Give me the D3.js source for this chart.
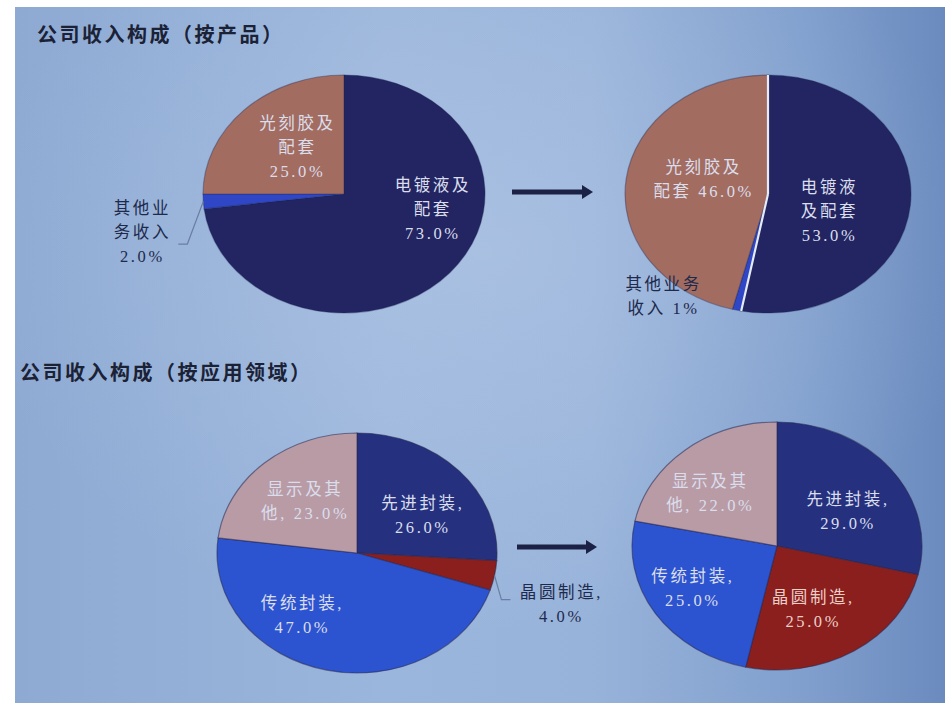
<!DOCTYPE html>
<html>
<head>
<meta charset="utf-8">
<script src="https://cdn.jsdelivr.net/npm/d3@7"></script>
<style>
  body { margin: 0; background: #ffffff; }
  svg { display: block; }
</style>
</head>
<body>
<svg id="chart" width="945" height="703"></svg>
<script>
// ---- data ----
const titles = ["公司收入构成（按产品）", "公司收入构成（按应用领域）"];

const productCategories = ["电镀液及配套", "其他业务收入", "光刻胶及配套"];
const productBefore = [73, 2, 25];
const productAfter = [53, 1, 46];

const fieldCategories = ["先进封装", "晶圆制造", "传统封装", "显示及其他"];
const fieldBefore = [26, 4, 47, 23];
const fieldAfter = [29, 25, 25, 22];

// label line templates, "{v}" is replaced by the formatted share
const productBeforeLabels = [["电镀液及", "配套", "{v}"], ["其他业", "务收入", "{v}"], ["光刻胶及", "配套", "{v}"]];
const productAfterLabels = [["电镀液", "及配套", "{v}"], ["其他业务", "收入 {v}"], ["光刻胶及", "配套 {v}"]];
const fieldBeforeLabels = [["先进封装,", "{v}"], ["晶圆制造,", "{v}"], ["传统封装,", "{v}"], ["显示及其", "他, {v}"]];
const fieldAfterLabels = [["先进封装,", "{v}"], ["晶圆制造,", "{v}"], ["传统封装,", "{v}"], ["显示及其", "他, {v}"]];

// ---- styling / layout ----
const productColors = ["#222561", "#2f47c6", "#a36c60"];
const fieldColors = ["#25317f", "#8a1f1e", "#2d54d0", "#b99ba6"];
const lightText = "#dadeec";
const darkText = "#1e2a4c";
const fmt1 = v => v.toFixed(1) + "%";
const fmt0 = v => v.toFixed(0) + "%";

const pies = [
  {
    cx: 344, cy: 194, rx: 141, ry: 119,
    categories: productCategories, values: productBefore, labels: productBeforeLabels,
    colors: productColors, format: fmt1,
    labelPos: [[0.63, 0.13], [-1.43, 0.32], [-0.33, -0.39]],
    labelColor: [lightText, darkText, lightText],
    leader: { index: 1, elbow: [45, 12], end: [36, 12] },
    stroke: "rgba(30,35,80,0.35)"
  },
  {
    cx: 768, cy: 194, rx: 143, ry: 119,
    categories: productCategories, values: productAfter, labels: productAfterLabels,
    colors: productColors, format: fmt1,
    labelPos: [[0.43, 0.15], [-0.73, 0.86], [-0.45, -0.12]],
    labelColor: [lightText, darkText, lightText],
    labelFormat: [fmt1, fmt0, fmt1],
    divider: 0,
    stroke: "rgba(30,35,80,0.35)"
  },
  {
    cx: 357, cy: 553, rx: 140, ry: 120,
    categories: fieldCategories, values: fieldBefore, labels: fieldBeforeLabels,
    colors: fieldColors, format: fmt1,
    labelPos: [[0.47, -0.31], [1.46, 0.43], [-0.39, 0.52], [-0.37, -0.43]],
    labelColor: [lightText, darkText, lightText, lightText],
    leader: { index: 1, elbow: [-60, -5], end: [-51, -5] },
    stroke: "rgba(40,40,80,0.55)"
  },
  {
    cx: 777, cy: 546, rx: 145, ry: 124,
    categories: fieldCategories, values: fieldAfter, labels: fieldAfterLabels,
    colors: fieldColors, format: fmt1,
    labelPos: [[0.49, -0.28], [0.25, 0.51], [-0.58, 0.34], [-0.46, -0.42]],
    labelColor: [lightText, "#ecd0c8", lightText, lightText],
    stroke: "rgba(40,40,80,0.55)"
  }
];

const arrows = [
  { x1: 512, x2: 593, y: 192 },
  { x1: 517, x2: 597, y: 547 }
];

const svg = d3.select("#chart");

// ---- backdrop ----
const defs = svg.append("defs");
const lg = defs.append("linearGradient").attr("id", "bg").attr("x1", "0").attr("x2", "1").attr("y1", "0").attr("y2", "0");
[["0%", "#8eaad3"], ["40%", "#9bb6dc"], ["62%", "#98b3da"], ["85%", "#809fcd"], ["100%", "#6b8bbf"]]
  .forEach(([o, c]) => lg.append("stop").attr("offset", o).attr("stop-color", c));
const rg = defs.append("radialGradient").attr("id", "glow").attr("cx", "0.5").attr("cy", "0.35").attr("r", "0.55");
rg.append("stop").attr("offset", "0%").attr("stop-color", "#c4d4ec").attr("stop-opacity", 0.35);
rg.append("stop").attr("offset", "100%").attr("stop-color", "#c4d4ec").attr("stop-opacity", 0);

svg.append("rect").attr("x", 15).attr("y", 7).attr("width", 930).attr("height", 696).attr("fill", "url(#bg)");
svg.append("rect").attr("x", 15).attr("y", 7).attr("width", 930).attr("height", 696).attr("fill", "url(#glow)");

// ---- titles ----
const titlePos = [[37, 33], [20, 371]];
svg.selectAll("text.title").data(titles).join("text")
  .attr("class", "title")
  .attr("x", (d, i) => titlePos[i][0])
  .attr("y", (d, i) => titlePos[i][1])
  .attr("dominant-baseline", "central")
  .attr("font-family", "'Noto Sans CJK SC', sans-serif")
  .attr("font-weight", 700)
  .attr("font-size", 20)
  .attr("letter-spacing", 2.5)
  .attr("fill", "#1b2236")
  .text(d => d);

// ---- pies ----
const labelFont = "'Liberation Serif', 'Noto Sans CJK SC', serif";
const lineH = 24;

pies.forEach(cfg => {
  const color = d3.scaleOrdinal().domain(cfg.categories).range(cfg.colors);
  const rows = cfg.categories.map((c, i) => ({ name: c, value: cfg.values[i], lines: cfg.labels[i], i }));
  const arcs = d3.pie().sort(null).value(d => d.value)(rows);
  const arc = d3.arc().innerRadius(0).outerRadius(cfg.rx);
  const k = cfg.ry / cfg.rx;

  const g = svg.append("g").attr("transform", `translate(${cfg.cx},${cfg.cy}) scale(1,${k})`);
  g.selectAll("path").data(arcs).join("path")
    .attr("d", arc)
    .attr("fill", d => color(d.data.name))
    .attr("stroke", cfg.stroke)
    .attr("stroke-width", 1.2)
    .attr("vector-effect", "non-scaling-stroke");

  // pale divider around one slice
  if (cfg.divider !== undefined) {
    const a = arcs[cfg.divider];
    [a.startAngle, a.endAngle].forEach(t => {
      g.append("line")
        .attr("x1", 0).attr("y1", 0)
        .attr("x2", cfg.rx * Math.sin(t)).attr("y2", -cfg.rx * Math.cos(t))
        .attr("stroke", "#e6ecf6").attr("stroke-width", 2.2)
        .attr("vector-effect", "non-scaling-stroke");
    });
  }

  // labels
  arcs.forEach((a, i) => {
    const f = cfg.labelFormat ? cfg.labelFormat[i] : cfg.format;
    const lx = cfg.cx + cfg.labelPos[i][0] * cfg.rx;
    const ly = cfg.cy + cfg.labelPos[i][1] * cfg.ry;
    const lines = a.data.lines.map(s => s.replace("{v}", f(a.data.value)));
    const t = svg.append("text")
      .attr("font-family", labelFont)
      .attr("font-size", 16.5)
      .attr("letter-spacing", 2.6)
      .attr("text-anchor", "middle")
      .attr("fill", cfg.labelColor[i]);
    lines.forEach((s, j) => {
      t.append("tspan")
        .attr("x", lx)
        .attr("y", ly + (j - (lines.length - 1) / 2) * lineH)
        .attr("dominant-baseline", "central")
        .text(s);
    });
  });

  // leader line for a small slice
  if (cfg.leader) {
    const a = arcs[cfg.leader.index];
    const mid = (a.startAngle + a.endAngle) / 2;
    const sx = cfg.cx + cfg.rx * Math.sin(mid);
    const sy = cfg.cy - cfg.ry * Math.cos(mid);
    const lx = cfg.cx + cfg.labelPos[cfg.leader.index][0] * cfg.rx;
    const ly = cfg.cy + cfg.labelPos[cfg.leader.index][1] * cfg.ry;
    svg.append("path")
      .attr("d", d3.line()([
        [sx, sy],
        [lx + cfg.leader.elbow[0], ly + cfg.leader.elbow[1]],
        [lx + cfg.leader.end[0], ly + cfg.leader.end[1]]
      ]))
      .attr("fill", "none")
      .attr("stroke", "#6a7ea3")
      .attr("stroke-width", 1.2);
  }
});

// ---- arrows ----
arrows.forEach(a => {
  const head = 11;
  svg.append("line")
    .attr("x1", a.x1).attr("x2", a.x2 - head + 1)
    .attr("y1", a.y).attr("y2", a.y)
    .attr("stroke", "#1c2146").attr("stroke-width", 5);
  svg.append("path")
    .attr("d", d3.line()([[a.x2 - head, a.y - 7], [a.x2, a.y], [a.x2 - head, a.y + 7]]) + "Z")
    .attr("fill", "#1c2146");
});
</script>
</body>
</html>
